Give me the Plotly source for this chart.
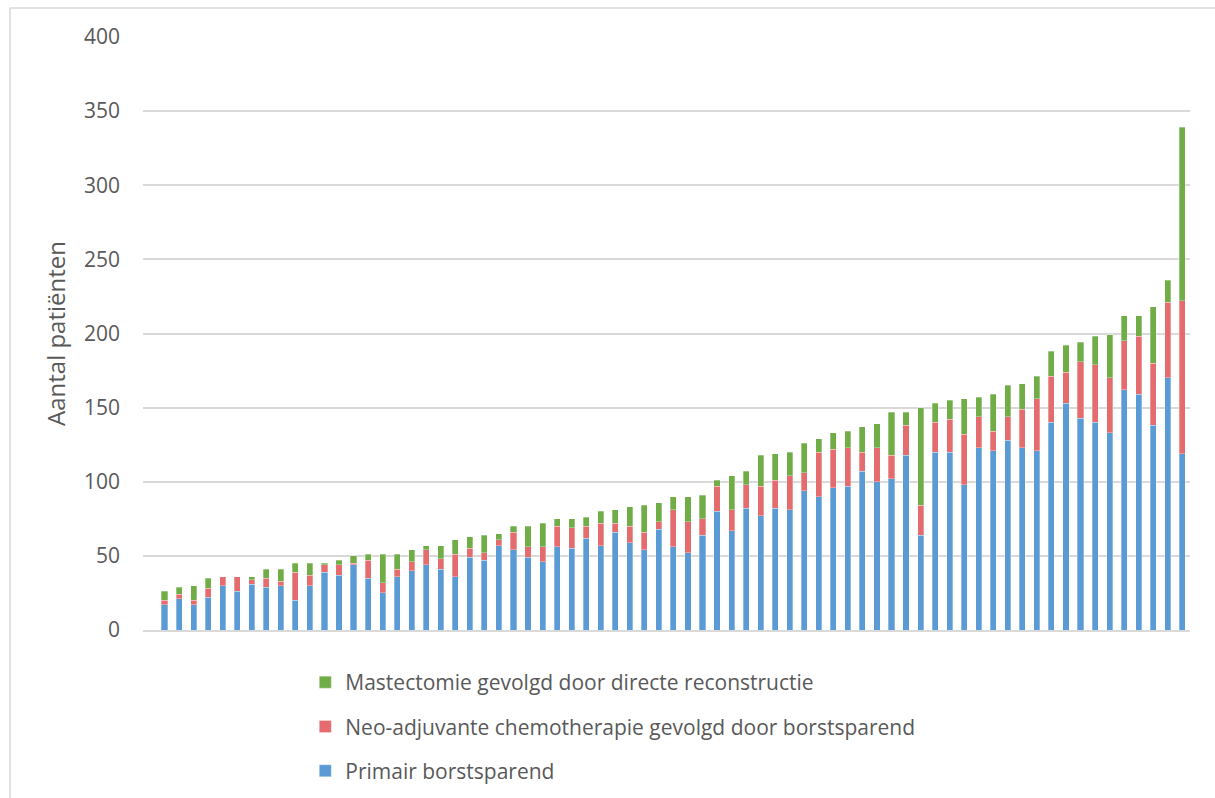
import plotly.graph_objects as go

# Data (71 hospitals, sorted by total)
primair = [17, 21, 17, 22, 30, 26, 31, 29, 30, 20,
           30, 39, 37, 44, 35, 25, 36, 40, 44, 41,
           36, 49, 47, 57, 54, 49, 46, 56, 55, 62,
           57, 66, 59, 54, 68, 56, 52, 64, 80, 67,
           82, 77, 82, 81, 94, 90, 96, 97, 107, 100,
           102, 118, 64, 120, 120, 98, 123, 121, 128, 123,
           121, 140, 153, 143, 140, 133, 162, 159, 138, 170, 119]
neo = [3, 3, 3, 6, 6, 10, 3, 6, 3, 19,
       7, 5, 7, 1, 12, 7, 5, 6, 10, 7,
       15, 6, 5, 4, 12, 7, 10, 14, 14, 8,
       15, 6, 11, 12, 5, 25, 21, 11, 17, 14,
       16, 20, 19, 23, 12, 30, 26, 26, 13, 23,
       16, 20, 20, 20, 22, 34, 21, 13, 16, 26,
       35, 31, 21, 38, 39, 37, 33, 39, 42, 51, 103]
mastectomie = [6, 5, 10, 7, 0, 0, 2, 6, 8, 6,
               8, 1, 3, 5, 4, 19, 10, 8, 3, 9,
               10, 8, 12, 4, 4, 14, 16, 5, 6, 6,
               8, 9, 13, 18, 13, 9, 17, 16, 4, 23,
               9, 21, 18, 16, 20, 9, 11, 11, 17, 16,
               29, 9, 66, 13, 13, 24, 13, 25, 21, 17,
               15, 17, 18, 13, 19, 29, 17, 14, 38, 15, 117]
x_idx = list(range(len(primair)))

series_names = ["Primair borstsparend",
                "Neo-adjuvante chemotherapie gevolgd door borstsparend",
                "Mastectomie gevolgd door directe reconstructie"]
y_ticks = [0, 50, 100, 150, 200, 250, 300, 350, 400]
y_title = "Aantal patiënten"

colors = ["#5B9BD5", "#E46C6E", "#70AD47"]
ranks = [3, 2, 1]
FONT = "Open Sans"
GREY = "#595959"

W, H = 1215, 798
TOP, LEFT, RIGHT = 37, 143, 25
PLOT_BOTTOM = 630
paper_h = H - TOP


def py(pix):
    return (H - pix) / paper_h


def px(pix):
    return (pix - LEFT) / (W - LEFT - RIGHT)


fig = go.Figure()
for i, (vals, name) in enumerate(zip([primair, neo, mastectomie], series_names)):
    fig.add_trace(go.Bar(
        x=x_idx, y=vals, name=name,
        marker=dict(color=colors[i], line=dict(color="rgba(255,255,255,0.6)", width=0.5)),
        legendgroup=f"g{i}", legendrank=ranks[i],
    ))

fig.update_layout(
    width=W, height=H,
    barmode="stack",
    bargap=0.58,
    plot_bgcolor="white", paper_bgcolor="white",
    margin=dict(l=LEFT, r=RIGHT, t=TOP, b=0, autoexpand=False),
    font=dict(family=FONT, color=GREY, size=21),
    showlegend=True,
    legend=dict(
        orientation="v",
        traceorder="grouped",
        tracegroupgap=14,
        x=0.155, xanchor="left",
        y=py(662), yanchor="top",
        font=dict(family=FONT, size=21, color=GREY),
        bgcolor="rgba(0,0,0,0)",
    ),
    xaxis=dict(
        range=[-1.48, 70.53],
        showticklabels=False, showgrid=False, zeroline=False,
        showline=True, linecolor="#D9D9D9", linewidth=1.5,
        ticks="",
    ),
    yaxis=dict(
        domain=[py(PLOT_BOTTOM), 1],
        range=[0, 400],
        tickvals=y_ticks,
        showgrid=True, gridcolor="#D9D9D9", gridwidth=1.5,
        zeroline=False, showline=False,
        ticks="", ticklabelstandoff=22,
        tickfont=dict(family=FONT, size=21, color=GREY),
        title=dict(text=y_title, font=dict(family=FONT, size=24, color=GREY), standoff=11),
    ),
    shapes=[
        dict(type="line", xref="paper", yref="paper",
             x0=px(10), x1=px(1215), y0=py(8), y1=py(8),
             line=dict(color="#D9D9D9", width=1.5)),
        dict(type="line", xref="paper", yref="paper",
             x0=px(10), x1=px(10), y0=py(8), y1=py(800),
             line=dict(color="#D9D9D9", width=1.5)),
    ],
)

fig.write_html("out.html", config={"displayModeBar": False},
               post_script="document.body.style.margin='0';document.body.style.overflow='hidden';")
